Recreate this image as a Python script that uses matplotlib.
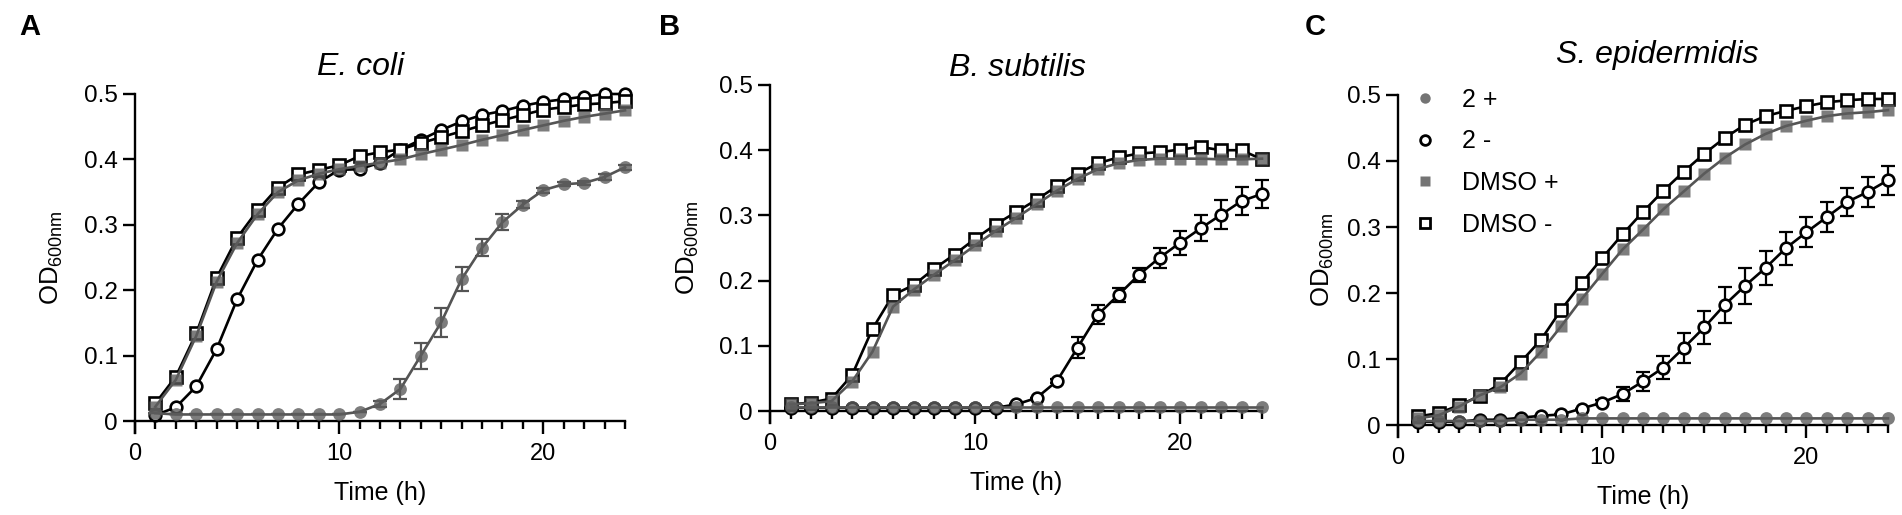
import numpy as np
import matplotlib
matplotlib.use("Agg")
import matplotlib.pyplot as plt
from matplotlib.ticker import MultipleLocator, FixedLocator
from matplotlib.lines import Line2D

plt.rcParams['font.family'] = ['Liberation Sans', 'DejaVu Sans']
plt.rcParams['mathtext.fontset'] = 'custom'
plt.rcParams['mathtext.rm'] = 'Liberation Sans'
plt.rcParams['mathtext.it'] = 'Liberation Sans:italic'

# ---------------- data ----------------
time_h = list(range(1, 25))

titles = ["E. coli", "B. subtilis", "S. epidermidis"]
panel_letters = ["A", "B", "C"]
series_labels = ["2 +", "2 -", "DMSO +", "DMSO -"]
x_ticks = [0, 10, 20]
y_ticks = [0, 0.1, 0.2, 0.3, 0.4, 0.5]
y_tick_labels = ["0", "0.1", "0.2", "0.3", "0.4", "0.5"]

# E. coli
ecoli_2p = [0.012, 0.010, 0.010, 0.010, 0.010, 0.010, 0.010, 0.010, 0.010, 0.010, 0.014, 0.026,
            0.049, 0.100, 0.151, 0.217, 0.265, 0.304, 0.331, 0.353, 0.362, 0.364, 0.373, 0.388]
ecoli_2p_err = [0, 0, 0, 0, 0, 0, 0, 0, 0, 0, 0, 0.004,
                0.015, 0.020, 0.022, 0.018, 0.013, 0.012, 0.006, 0.004, 0.003, 0.003, 0.004, 0.004]
ecoli_2m = [0.009, 0.021, 0.053, 0.110, 0.186, 0.246, 0.294, 0.332, 0.365, 0.384, 0.385, 0.395,
            0.415, 0.430, 0.445, 0.458, 0.468, 0.474, 0.482, 0.488, 0.492, 0.496, 0.500, 0.500]
ecoli_dp = [0.022, 0.063, 0.130, 0.213, 0.272, 0.316, 0.350, 0.368, 0.378, 0.385, 0.390, 0.395,
            0.400, 0.408, 0.415, 0.422, 0.430, 0.437, 0.445, 0.452, 0.459, 0.465, 0.470, 0.475]
ecoli_dm = [0.027, 0.068, 0.134, 0.219, 0.280, 0.322, 0.357, 0.377, 0.384, 0.391, 0.405, 0.411,
            0.415, 0.425, 0.434, 0.443, 0.452, 0.460, 0.468, 0.476, 0.480, 0.484, 0.486, 0.489]

# B. subtilis
bsub_2p = [0.006] * 24
bsub_2m = [0.005, 0.005, 0.005, 0.005, 0.005, 0.005, 0.005, 0.005, 0.005, 0.005, 0.005, 0.010,
           0.020, 0.046, 0.097, 0.148, 0.178, 0.209, 0.235, 0.258, 0.280, 0.301, 0.322, 0.333]
bsub_2m_err = [0, 0, 0, 0, 0, 0, 0, 0, 0, 0, 0, 0,
               0, 0.003, 0.016, 0.014, 0.011, 0.011, 0.015, 0.018, 0.020, 0.022, 0.022, 0.021]
bsub_dp = [0.010, 0.012, 0.015, 0.045, 0.091, 0.160, 0.186, 0.209, 0.231, 0.254, 0.276, 0.296,
           0.317, 0.338, 0.356, 0.371, 0.380, 0.385, 0.387, 0.387, 0.387, 0.386, 0.386, 0.387]
bsub_dm = [0.010, 0.013, 0.019, 0.055, 0.126, 0.178, 0.193, 0.218, 0.240, 0.264, 0.286, 0.305,
           0.324, 0.345, 0.364, 0.380, 0.389, 0.395, 0.397, 0.401, 0.405, 0.400, 0.400, 0.386]

# S. epidermidis
sepi_2p = [0.006, 0.006, 0.006, 0.006, 0.006, 0.008, 0.008, 0.008, 0.010, 0.010, 0.010, 0.010,
           0.010, 0.010, 0.010, 0.010, 0.010, 0.010, 0.010, 0.010, 0.010, 0.010, 0.010, 0.010]
sepi_2m = [0.005, 0.005, 0.005, 0.008, 0.008, 0.011, 0.014, 0.016, 0.025, 0.034, 0.047, 0.066,
           0.087, 0.117, 0.148, 0.182, 0.211, 0.238, 0.268, 0.292, 0.315, 0.338, 0.353, 0.371]
sepi_2m_err = [0, 0, 0, 0, 0, 0, 0, 0, 0, 0.004, 0.011, 0.015,
               0.018, 0.023, 0.025, 0.027, 0.027, 0.026, 0.025, 0.023, 0.023, 0.021, 0.023, 0.022]
sepi_dp = [0.010, 0.015, 0.028, 0.045, 0.057, 0.078, 0.111, 0.150, 0.191, 0.229, 0.266, 0.296,
           0.327, 0.354, 0.381, 0.405, 0.425, 0.441, 0.453, 0.461, 0.468, 0.472, 0.474, 0.477]
sepi_dm = [0.013, 0.018, 0.030, 0.044, 0.062, 0.095, 0.129, 0.175, 0.215, 0.253, 0.289, 0.323,
           0.355, 0.384, 0.411, 0.435, 0.455, 0.468, 0.476, 0.483, 0.489, 0.492, 0.494, 0.494]

panels = [
    dict(p2=ecoli_2p, p2e=ecoli_2p_err, m2=ecoli_2m, m2e=None, dp=ecoli_dp, dm=ecoli_dm),
    dict(p2=bsub_2p, p2e=None, m2=bsub_2m, m2e=bsub_2m_err, dp=bsub_dp, dm=bsub_dm),
    dict(p2=sepi_2p, p2e=None, m2=sepi_2m, m2e=sepi_2m_err, dp=sepi_dp, dm=sepi_dm),
]

# ---------------- layout (pixels) ----------------
W, H = 1902, 515
fig = plt.figure(figsize=(W / 100, H / 100), dpi=100)

YLOW = -0.018
# left px, right px, px of y=0, px of y=0.5
boxes = [(135, 625, 421, 94), (770, 1262, 411, 85), (1398, 1888, 425, 95)]
title_pos = [(361, 67), (1017, 68), (1657, 55)]
letter_pos = [(30, 27), (670, 27), (1315, 27)]
ylabel_x = [52, 688, 1323]

GRAY_M = (0.36, 0.36, 0.36)
GRAY_L = (0.33, 0.33, 0.33)
ms = 8.4
mew = 1.9
lw = 1.9

axes = []
for i, (l, r, y0, y5) in enumerate(boxes):
    ppu = (y0 - y5) / 0.5
    bottom = y0 - YLOW * ppu
    ax = fig.add_axes([l / W, (H - bottom) / H, (r - l) / W, (bottom - y5) / H])
    axes.append(ax)
    d = panels[i]
    t = time_h

    # 2 - (open circles, black)
    if d['m2e'] is not None:
        ax.errorbar(t, d['m2'], yerr=d['m2e'], fmt='none', ecolor='black',
                    elinewidth=1.6, capsize=5, capthick=1.6, zorder=2, clip_on=False)
    ax.plot(t, d['m2'], color='black', lw=lw, marker='o', ms=ms, mfc='white',
            mec='black', mew=mew, zorder=3, clip_on=False)
    # DMSO - (open squares, black)
    ax.plot(t, d['dm'], color='black', lw=lw, marker='s', ms=ms, mfc='white',
            mec='black', mew=mew, zorder=3, clip_on=False)
    # 2 + (gray filled circles)
    if d['p2e'] is not None:
        ax.errorbar(t, d['p2'], yerr=d['p2e'], fmt='none', ecolor=GRAY_L,
                    elinewidth=1.6, capsize=5, capthick=1.6, zorder=4, clip_on=False)
    ax.plot(t, d['p2'], color=GRAY_L, lw=lw, zorder=4, clip_on=False)
    ax.plot(t, d['p2'], ls='none', marker='o', ms=9.2, mfc=GRAY_M, mec='none',
            alpha=0.8, zorder=5, clip_on=False)
    # DMSO + (gray filled squares)
    ax.plot(t, d['dp'], color=GRAY_L, lw=lw, zorder=4, clip_on=False)
    ax.plot(t, d['dp'], ls='none', marker='s', ms=8.6, mfc=GRAY_M, mec='none',
            alpha=0.8, zorder=5, clip_on=False)

    ax.set_xlim(0, 24)
    ax.set_ylim(YLOW, 0.5)
    for s in ['top', 'right']:
        ax.spines[s].set_visible(False)
    ax.spines['bottom'].set_position(('data', 0))
    for s in ['left', 'bottom']:
        ax.spines[s].set_linewidth(1.7)
    ax.xaxis.set_major_locator(FixedLocator(x_ticks))
    ax.xaxis.set_minor_locator(MultipleLocator(1))
    ax.set_yticks(y_ticks)
    ax.set_yticklabels(y_tick_labels)
    ax.tick_params(axis='x', which='major', length=9.5, width=1.7, labelsize=17, pad=6)
    ax.tick_params(axis='x', which='minor', length=6, width=1.7)
    ax.tick_params(axis='y', which='major', length=9, width=1.7, labelsize=17.5, pad=3.5)

    ax.set_xlabel("Time (h)", fontsize=18)
    ax.xaxis.label.set_va('center')
    xl_y = (bottom - (y0 + 72)) / (bottom - y5)
    ax.xaxis.set_label_coords(0.5, xl_y)

    ax.set_ylabel(r"OD$_{\mathrm{600nm}}$", fontsize=18.5)
    ax.yaxis.label.set_va('center')
    yc = (y0 + y5) / 2
    ax.yaxis.set_label_coords((ylabel_x[i] - l) / (r - l), (bottom - yc) / (bottom - y5))

    tx, ty = title_pos[i]
    fig.text(tx / W, 1 - ty / H, titles[i], fontsize=23, style='italic',
             ha='center', va='center')
    lx, ly = letter_pos[i]
    fig.text(lx / W, 1 - ly / H, panel_letters[i], fontsize=21, fontweight='bold',
             ha='center', va='center')

# legend in panel C
handles = [
    Line2D([], [], ls='none', marker='o', ms=7.5, mfc=GRAY_M, mec='none', alpha=0.85),
    Line2D([], [], ls='none', marker='o', ms=7.0, mfc='white', mec='black', mew=2.0),
    Line2D([], [], ls='none', marker='s', ms=7.2, mfc=GRAY_M, mec='none', alpha=0.85),
    Line2D([], [], ls='none', marker='s', ms=7.0, mfc='white', mec='black', mew=2.0),
]
leg = axes[2].legend(handles, series_labels, loc='upper left',
                     bbox_to_anchor=(1412 / W, 1 - 88 / H), bbox_transform=fig.transFigure,
                     frameon=False, fontsize=18, handlelength=1.0, handletextpad=1.0,
                     labelspacing=0.7, borderpad=0, borderaxespad=0)

fig.savefig("out.png", dpi=100)
